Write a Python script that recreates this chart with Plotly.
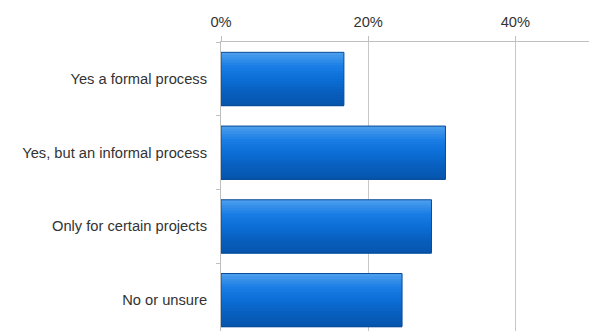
import plotly.graph_objects as go

categories = ["Yes a formal process", "Yes, but an informal process",
              "Only for certain projects", "No or unsure"]
values = [16.7, 30.5, 28.6, 24.6]
tick_vals = [0, 20, 40]
tick_text = ["0%", "20%", "40%"]

# style: gradient key colours (top -> bottom) for the bars
key_colors = [(0x4a, 0x9c, 0xec), (0x1a, 0x7e, 0xe6), (0x0c, 0x6e, 0xd8),
              (0x08, 0x60, 0xc0), (0x07, 0x56, 0xae)]
n_bands = 20


def lerp_color(t):
    seg = t * (len(key_colors) - 1)
    k = min(int(seg), len(key_colors) - 2)
    f = seg - k
    a, b = key_colors[k], key_colors[k + 1]
    return "rgb(%d,%d,%d)" % tuple(round(a[j] + (b[j] - a[j]) * f) for j in range(3))


bar_w = 0.72
bw = bar_w / n_bands

fig = go.Figure()
for i in range(n_bands):
    fig.add_trace(go.Bar(
        x=values, y=categories, orientation="h",
        width=bw * 1.3, offset=-bar_w / 2 + i * bw,
        marker=dict(color=lerp_color(i / (n_bands - 1)), line=dict(width=0)),
        hoverinfo="skip",
    ))
fig.add_trace(go.Bar(
    x=values, y=categories, orientation="h",
    width=bar_w, offset=-bar_w / 2,
    marker=dict(color="rgba(0,0,0,0)", line=dict(color="#0a4c96", width=1)),
))

fig.update_layout(
    width=589, height=331,
    margin=dict(l=221, r=0, t=42, b=0, autoexpand=False),
    paper_bgcolor="white", plot_bgcolor="white",
    font=dict(family="Liberation Sans, Arial, sans-serif", size=14.7, color="#333333"),
    showlegend=False,
    barmode="overlay",
)
fig.update_xaxes(
    side="top", range=[0, 50], tickvals=tick_vals, ticktext=tick_text,
    showgrid=True, gridcolor="#c8c8c8", gridwidth=1,
    showline=True, linecolor="#bfbfbf", linewidth=1,
    ticks="outside", ticklen=5, tickcolor="#bfbfbf",
    zeroline=False, ticklabelstandoff=3, automargin=False,
)
fig.update_yaxes(
    categoryorder="array", categoryarray=categories,
    range=[3.42, -0.5],
    showline=True, linecolor="#bfbfbf", linewidth=1,
    ticks="outside", ticklen=4, tickcolor="#bfbfbf", tickson="boundaries",
    showgrid=False, ticklabelstandoff=10, automargin=False,
)

fig.write_html(
    "out.html",
    config={"displayModeBar": False},
    post_script="document.body.style.margin='0';document.body.style.overflow='hidden';",
)
